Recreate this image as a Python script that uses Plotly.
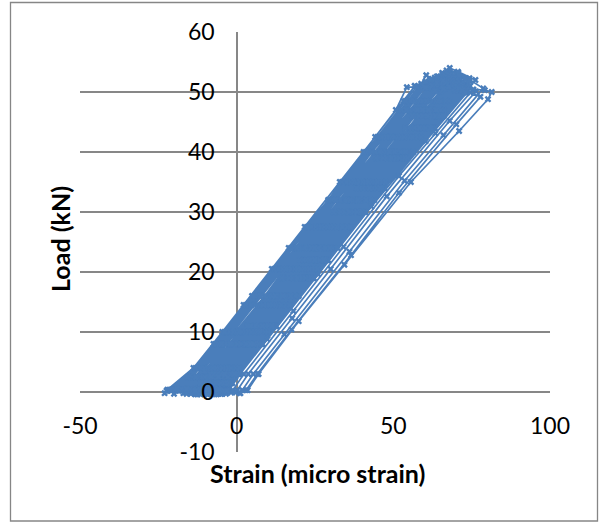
import plotly.graph_objects as go

# Load-strain record of a cyclically loaded specimen (one gauge),
# split into its loading/unloading cycles in time order.
c01_strain = [-7.0, -0.4, 8.3, 19.8, 32.2, 43.9, 56.3, 66.2, 71.5, 74.6, 77.8, 70.1, 51.8, 36.5, 17.5, 6.6, 3.0, 1.0]
c01_load = [0.2, 2.5, 8, 16, 24, 32, 40, 47, 50.3, 49.9, 49.2, 44.6, 33.2, 22.8, 10.4, 3, 0.3, -0.2]

c02_strain = [-8.5, -2.2, 6.6, 18.7, 30.3, 42.8, 54.4, 65.2, 70.7, 72.1, 73.3, 60.3, 43.0, 26.0, 9.8, 1.1, -2.4, -4.6]
c02_load = [0.1, 2.5, 8, 16, 24, 32, 40, 47, 50.8, 50.4, 49.8, 41.8, 30.9, 19.6, 8.8, 3, 0.3, -0.3]

c03_strain = [-10.1, -3.4, 5.2, 17.3, 28.8, 41.2, 53.1, 63.4, 69.8, 73.2, 76.4, 68.0, 47.9, 30.0, 17.7, 3.7, 0.2, -1.8]
c03_load = [0.3, 2.5, 8, 16, 24, 32, 40, 47, 51.2, 50.8, 50.1, 45.2, 32.6, 20.5, 12.3, 3, 0.3, -0.1]

c04_strain = [-11.2, -4.3, 4.2, 15.8, 28.3, 39.6, 52.4, 62.3, 69.3, 71.4, 73.3, 62.6, 46.1, 28.8, 12.3, 0.2, -3.4, -5.8]
c04_load = [0.2, 2.5, 8, 16, 24, 32, 40, 47, 51.5, 51.1, 50.5, 44, 34, 22, 11, 3, 0.3, -0.2]

c05_strain = [-12.0, -5.7, 3.3, 15.2, 26.6, 39.3, 50.8, 61.7, 69.0, 72.0, 74.5, 63.0, 47.0, 29.0, 12.5, 0.5, -3.0, -5.0]
c05_load = [0.2, 2.5, 8, 16, 24, 32, 40, 47, 52.0, 51.6, 51.0, 44, 34, 22, 11, 3, 0.3, -0.3]

c06_strain = [-13.1, -6.3, 2.1, 14.2, 25.8, 38.3, 49.6, 60.8, 68.6, 70.9, 73.0, 61.0, 45.2, 27.3, 10.2, -1.3, -5.1, -7.4]
c06_load = [0.3, 2.5, 8, 16, 24, 32, 40, 47, 52.4, 52.0, 51.3, 44, 34, 22, 11, 3, 0.3, -0.2]

c07_strain = [-14.0, -7.6, 1.3, 12.8, 25.2, 36.8, 49.4, 59.3, 68.5, 74.1, 78.7, 66.0, 53.6, 36.0, 15.2, 5.3, 1.8, -0.3]
c07_load = [0.2, 2.5, 8, 16, 24, 32, 40, 47, 53.0, 52.1, 50.6, 42.8, 35.2, 23.4, 9.6, 3, 0.3, -0.1]

c08_strain = [-15.3, -8.4, 0.2, 11.8, 24.3, 35.7, 48.4, 58.2, 68.1, 70.5, 73.0, 59.3, 43.8, 25.2, 9.3, -3.1, -6.6, -9.0]
c08_load = [0.3, 2.5, 8, 16, 24, 32, 40, 47, 53.4, 53.0, 52.3, 44, 34, 22, 11, 3, 0.3, -0.2]

c09_strain = [-16.1, -9.6, -0.8, 11.3, 22.9, 35.3, 46.8, 57.7, 65.3, 68.0, 70.6, 76.2, 63.2, 47.2, 29.2, 12.7, 0.7, -2.8, -5.1]
c09_load = [0.2, 2.5, 8, 16, 24, 32, 40, 47, 52.3, 54.0, 53.4, 52.0, 44, 34, 22, 11, 3, 0.3, -0.3]

c10_strain = [-16.8, -10.1, -1.9, 10.4, 22.1, 34.5, 46.2, 56.9, 65.7, 68.3, 70.7, 58.0, 42.3, 23.8, 7.8, -4.4, -8.1, -10.5]
c10_load = [0.3, 2.5, 8, 16, 24, 32, 40, 47, 53.0, 52.6, 51.8, 44, 34, 22, 11, 3, 0.3, -0.2]

c11_strain = [-17.5, -11.3, -2.4, 9.2, 21.6, 33.2, 45.6, 55.7, 64.3, 69.4, 74.0, 62.4, 46.2, 28.3, 11.8, -0.7, -4.1, -6.6]
c11_load = [0.2, 2.5, 8, 16, 24, 32, 40, 47, 52.6, 52.2, 51.3, 44, 34, 22, 11, 3, 0.3, -0.2]

c12_strain = [-18.4, -11.7, -3.6, 8.9, 20.4, 32.8, 44.3, 55.3, 63.2, 66.4, 69.1, 56.8, 41.2, 23.3, 6.8, -5.2, -9.1, -11.4]
c12_load = [0.3, 2.5, 8, 16, 24, 32, 40, 47, 52.4, 52.0, 51.4, 44, 34, 22, 11, 3, 0.3, -0.3]

c13_strain = [-19.3, -12.4, -4.5, 7.6, 19.9, 31.6, 44.1, 54.0, 61.8, 67.2, 73.6, 62.4, 46.4, 28.4, 11.9, -0.1, -3.6, -5.8]
c13_load = [0.2, 2.5, 8, 16, 24, 32, 40, 47, 52.0, 51.6, 50.8, 44, 34, 22, 11, 3, 0.3, -0.2]

c14_strain = [-20.1, -13.3, -5.2, 7.2, 18.8, 31.3, 42.7, 53.8, 60.4, 63.6, 66.9, 55.7, 40.3, 22.1, 5.8, -6.3, -10.0, -12.6]
c14_load = [0.3, 2.5, 8, 16, 24, 32, 40, 47, 51.6, 51.2, 50.6, 44, 34, 22, 11, 3, 0.3, -0.2]

c15_strain = [-20.9, -14.1, -6.0, 6.4, 17.9, 30.4, 42.1, 52.5, 59.0, 64.1, 69.5, 59.1, 43.3, 25.2, 8.6, -3.4, -7.0, -9.5]
c15_load = [0.2, 2.5, 8, 16, 24, 32, 40, 47, 51.2, 50.9, 50.3, 44, 34, 22, 11, 3, 0.3, -0.3]

c16_strain = [-21.7, -15.0, -6.8, 5.6, 17.3, 29.6, 41.2, 51.7, 56.8, 61.2, 65.0, 54.8, 39.2, 21.3, 4.4, -7.4, -11.1, -13.5]
c16_load = [0.3, 2.5, 8, 16, 24, 32, 40, 47, 51.0, 50.7, 50.0, 44, 34, 22, 11, 3, 0.3, -0.2]

c17_strain = [-22.4, -15.6, -7.4, 4.9, 16.6, 29.2, 40.5, 50.8, 54.3, 59.6, 70.8, 60.3, 44.8, 26.6, 10.2, -2.0, -5.4, -7.8]
c17_load = [0.2, 2.5, 8, 16, 24, 32, 40, 47, 50.8, 50.9, 50.2, 44, 34, 22, 11, 3, 0.3, -0.2]

c18_strain = [-19.8, -13.0, -4.8, 7.6, 19.2, 31.6, 43.2, 54.2, 60.5, 63.8, 65.5, 53.7, 38.3, 20.2, 3.4, -8.4, -12.1, -14.5]
c18_load = [0.3, 2.5, 8, 16, 24, 32, 40, 47, 52.8, 51.8, 51.0, 44, 34, 22, 11, 3, 0.3, -0.2]

c19_strain = [-15.6, -8.8, -0.3, 11.3, 23.8, 35.2, 47.8, 57.7, 66.7, 71.2, 75.4, 63.4, 51.8, 34.1, 18.1, 2.3, -1.2, -3.4]
c19_load = [0.2, 2.5, 8, 16, 24, 32, 40, 47, 52.8, 52.0, 50.4, 43.1, 36.0, 24.2, 13.5, 3, 0.3, -0.3]

c20_strain = [-12.6, -5.8, 2.7, 14.8, 26.2, 38.7, 50.3, 61.3, 68.2, 71.6, 73.0, 61.8, 45.8, 27.8, 11.3, -0.7, -4.2, -6.6]
c20_load = [0.3, 2.5, 8, 16, 24, 32, 40, 47, 51.8, 51.5, 50.8, 44, 34, 22, 11, 3, 0.3, -0.2]

c21_strain = [-9.4, -2.8, 5.7, 17.3, 29.8, 41.3, 53.9, 63.8, 69.4, 75.6, 79.2, 81.4, 80.2, 71.0, 55.6, 34.4, 19.8, 7.0, 3.5, 1.2]
c21_load = [0.2, 2.5, 8, 16, 24, 32, 40, 47, 50.6, 50.4, 50.3, 50.0, 48.8, 43.5, 35.0, 21.2, 11.8, 3, 0.3, -0.2]

c22_strain = [-14.5, -8.2, 0.6, 12.3, 24.8, 36.2, 48.7, 59.3, 67.3, 69.1, 70.8, 58.4, 42.4, 24.8, 8.2, -3.8, -7.4, -9.8]
c22_load = [0.3, 2.5, 8, 16, 24, 32, 40, 47, 52.5, 52.2, 51.5, 44, 34, 22, 11, 3, 0.3, -0.2]

c23_strain = [-22.1, -13.8, -4.6, 2.2, 11.2, 21.7, 32.9, 44.2, 53.2, 56.9, 60.5, 63.8, 56.5, 45.0, 31.5, 15.0, -1.5, -11.0, -12.7, -15.6, -20.0]
c23_load = [0.4, 4, 10, 14.5, 20.5, 27.5, 35, 42.5, 48.5, 51.0, 50.8, 50.2, 46, 39, 30, 19, 8, 1.5, 0.2, 0.5, -0.3]

c24_strain = [-20.7, -12.4, -3.2, 3.6, 12.6, 23.1, 34.3, 45.6, 54.6, 58.9, 62.4, 66.0, 58.2, 46.7, 33.2, 16.7, 0.2, -9.3, -11.0, -13.2, -18.5]
c24_load = [0.4, 4, 10, 14.5, 20.5, 27.5, 35, 42.5, 48.5, 51.4, 51.0, 50.5, 46, 39, 30, 19, 8, 1.5, 0.2, -0.4, 0.4]

c25_strain = [-19.9, -11.6, -2.4, 4.4, 13.4, 23.9, 35.1, 46.4, 55.4, 60.3, 64.0, 67.8, 59.4, 47.9, 34.4, 17.9, 1.4, -8.1, -9.8, -12.0, -17.0]
c25_load = [0.4, 4, 10, 14.5, 20.5, 27.5, 35, 42.5, 48.5, 51.8, 51.5, 50.9, 46, 39, 30, 19, 8, 1.5, 0.2, 0.6, -0.2]

c26_strain = [-18.5, -10.2, -1.0, 5.8, 14.8, 25.3, 36.5, 47.8, 56.8, 62.3, 66.0, 69.4, 60.6, 49.1, 35.6, 19.1, 2.6, -6.9, -8.6, -11.4, -15.8]
c26_load = [0.4, 4, 10, 14.5, 20.5, 27.5, 35, 42.5, 48.5, 52.2, 51.9, 51.2, 46, 39, 30, 19, 8, 1.5, 0.2, -0.4, 0.5]

c27_strain = [-17.5, -9.2, 0.0, 6.8, 15.8, 26.3, 37.5, 48.8, 57.8, 63.9, 67.5, 71.2, 61.8, 50.3, 36.8, 20.3, 3.8, -5.7, -7.4, -10.0, -14.6]
c27_load = [0.4, 4, 10, 14.5, 20.5, 27.5, 35, 42.5, 48.5, 52.6, 52.3, 51.6, 46, 39, 30, 19, 8, 1.5, 0.2, 0.5, -0.3]

c28_strain = [-16.7, -8.4, 0.8, 7.6, 16.6, 27.1, 38.3, 49.6, 58.6, 65.6, 69.2, 73.0, 63.0, 51.5, 38.0, 21.5, 5.0, -4.5, -6.2, -9.1, -13.4]
c28_load = [0.4, 4, 10, 14.5, 20.5, 27.5, 35, 42.5, 48.5, 53.2, 52.8, 52.0, 46, 39, 30, 19, 8, 1.5, 0.2, -0.4, 0.6]

c29_strain = [-15.9, -7.6, 1.6, 8.4, 17.4, 27.9, 39.1, 50.4, 59.4, 67.0, 70.8, 74.3, 63.8, 52.3, 38.8, 22.3, 5.8, -3.7, -5.4, -8.0, -12.6]
c29_load = [0.4, 4, 10, 14.5, 20.5, 27.5, 35, 42.5, 48.5, 53.6, 53.2, 52.3, 46, 39, 30, 19, 8, 1.5, 0.2, 0.4, -0.4]

c30_strain = [-14.7, -6.4, 2.8, 9.6, 18.6, 29.1, 40.3, 51.6, 60.6, 67.3, 71.0, 74.3, 64.4, 52.9, 39.4, 22.9, 6.4, -3.1, -4.8, -7.5, -11.8]
c30_load = [0.4, 4, 10, 14.5, 20.5, 27.5, 35, 42.5, 48.5, 53.0, 52.6, 51.9, 46, 39, 30, 19, 8, 1.5, 0.2, -0.3, 0.5]

c31_strain = [-13.8, -5.5, 3.7, 10.5, 19.5, 30.0, 41.2, 52.5, 61.5, 67.9, 69.5, 70.7, 61.0, 49.5, 36.0, 19.5, 3.0, -6.5, -8.2, -10.8, -10.6]
c31_load = [0.4, 4, 10, 14.5, 20.5, 27.5, 35, 42.5, 48.5, 52.8, 52.4, 51.8, 46, 39, 30, 19, 8, 1.5, 0.2, 0.5, -0.3]

c32_strain = [-12.9, -4.6, 4.6, 11.4, 20.4, 30.9, 42.1, 53.4, 62.4, 68.1, 70.0, 71.5, 62.4, 50.9, 37.4, 20.9, 4.4, -5.1, -6.8, -9.3, -11.0]
c32_load = [0.4, 4, 10, 14.5, 20.5, 27.5, 35, 42.5, 48.5, 52.3, 51.9, 51.4, 46, 39, 30, 19, 8, 1.5, 0.2, -0.4, 0.4]

c33_strain = [-11.7, -3.4, 5.8, 12.6, 21.6, 32.1, 43.3, 54.6, 63.6, 68.7, 70.4, 71.9, 63.4, 51.9, 38.4, 21.9, 5.4, -4.1, -5.8, -8.3, -10.4]
c33_load = [0.4, 4, 10, 14.5, 20.5, 27.5, 35, 42.5, 48.5, 51.9, 51.5, 51.0, 46, 39, 30, 19, 8, 1.5, 0.2, 0.5, -0.3]

c34_strain = [-10.9, -2.6, 6.6, 13.4, 22.4, 32.9, 44.1, 55.4, 64.4, 69.0, 71.0, 72.7, 64.6, 53.1, 39.6, 23.1, 6.6, -2.9, -4.6, -7.0, -9.6]
c34_load = [0.4, 4, 10, 14.5, 20.5, 27.5, 35, 42.5, 48.5, 51.6, 51.2, 50.7, 46, 39, 30, 19, 8, 1.5, 0.2, -0.4, 0.4]

c35_strain = [-10.1, -1.8, 7.4, 14.2, 23.2, 33.7, 44.9, 56.2, 65.2, 69.4, 71.6, 73.4, 65.8, 54.3, 40.8, 24.3, 7.8, -1.7, -3.4, -5.8, -8.0]
c35_load = [0.4, 4, 10, 14.5, 20.5, 27.5, 35, 42.5, 48.5, 51.3, 50.9, 50.4, 46, 39, 30, 19, 8, 1.5, 0.2, 0.5, -0.3]

c36_strain = [-8.5, -0.2, 9.0, 15.8, 24.8, 35.3, 46.5, 57.8, 66.8, 70.4, 71.6, 72.4, 65.2, 53.7, 40.2, 23.7, 7.2, -2.3, -4.0, -6.4, -7.0]
c36_load = [0.4, 4, 10, 14.5, 20.5, 27.5, 35, 42.5, 48.5, 50.9, 50.5, 50.1, 46, 39, 30, 19, 8, 1.5, 0.2, -0.4, 0.4]

c37_strain = [-7.5, 0.8, 10.0, 16.8, 25.8, 36.3, 47.5, 58.8, 67.8, 70.9, 72.0, 73.0, 66.1, 54.6, 41.1, 24.6, 8.1, -1.4, -3.1, -5.5, -16.0]
c37_load = [0.4, 4, 10, 14.5, 20.5, 27.5, 35, 42.5, 48.5, 50.6, 50.3, 49.9, 46, 39, 30, 19, 8, 1.5, 0.2, 0.4, -0.3]

c38_strain = [-21.4, -13.1, -3.9, 2.9, 11.9, 22.4, 33.6, 44.9, 53.9, 57.5, 60.2, 63.3, 56.0, 44.5, 31.0, 14.5, -2.0, -11.5, -13.2, -16.0, -23.0, -19.0]
c38_load = [0.4, 4, 10, 14.5, 20.5, 27.5, 35, 42.5, 48.5, 50.9, 50.7, 50.2, 46, 39, 30, 19, 8, 1.5, 0.2, 0.5, -0.2, 0.6]

cycles = [
    (c01_strain, c01_load), (c02_strain, c02_load), (c03_strain, c03_load),
    (c04_strain, c04_load), (c05_strain, c05_load), (c06_strain, c06_load),
    (c07_strain, c07_load), (c08_strain, c08_load), (c09_strain, c09_load),
    (c10_strain, c10_load), (c11_strain, c11_load), (c12_strain, c12_load),
    (c13_strain, c13_load), (c14_strain, c14_load), (c15_strain, c15_load),
    (c16_strain, c16_load), (c17_strain, c17_load), (c18_strain, c18_load),
    (c19_strain, c19_load), (c20_strain, c20_load), (c21_strain, c21_load),
    (c22_strain, c22_load), (c23_strain, c23_load), (c24_strain, c24_load),
    (c25_strain, c25_load), (c26_strain, c26_load), (c27_strain, c27_load),
    (c28_strain, c28_load), (c29_strain, c29_load), (c30_strain, c30_load),
    (c31_strain, c31_load), (c32_strain, c32_load), (c33_strain, c33_load),
    (c34_strain, c34_load), (c35_strain, c35_load), (c36_strain, c36_load),
    (c37_strain, c37_load), (c38_strain, c38_load),
]

x_ticks = [-50, 0, 50, 100]
x_tick_text = ["-50", "0", "50", "100"]
y_ticks = [-10, 0, 10, 20, 30, 40, 50, 60]
y_tick_text = ["-10", "0", "10", "20", "30", "40", "50", "60"]

strain, load = [], []
for s, l in cycles:
    strain.extend(s)
    load.extend(l)

SERIES = "#4A7EBB"
GRID = "#878787"
FONT = "Lato"

fig = go.Figure(
    go.Scatter(
        x=strain, y=load, mode="lines+markers",
        line=dict(color=SERIES, width=1.7),
        marker=dict(symbol="x", size=6, color=SERIES),
        showlegend=False, hoverinfo="x+y",
    )
)

W, H = 599, 522
L, R, T, B = 80, 49, 32, 70
pw, ph = W - L - R, H - T - B

def px_x(px):
    return (px - L) / pw

def px_y(py):
    return (H - B - py) / ph

fig.update_layout(
    width=W, height=H,
    margin=dict(l=L, r=R, t=T, b=B),
    paper_bgcolor="white", plot_bgcolor="white",
    font=dict(family=FONT, color="black"),
    xaxis=dict(
        range=[-50, 100], tickvals=x_ticks, ticktext=x_tick_text, showgrid=False,
        zeroline=True, zerolinecolor=GRID, zerolinewidth=1.5,
        showline=False, ticks="", anchor="free", position=px_y(410),
        tickfont=dict(size=23, family=FONT, color="black"),
    ),
    yaxis=dict(
        range=[-10, 60], tickvals=y_ticks, ticktext=y_tick_text, showgrid=True,
        gridcolor=GRID, gridwidth=1.5, zeroline=False, showline=False,
        ticks="", anchor="free", position=px_x(236.7),
        ticklabelstandoff=22,
        tickfont=dict(size=23, family=FONT, color="black"),
    ),
    shapes=[dict(
        type="rect", xref="paper", yref="paper",
        x0=px_x(10.5), x1=px_x(597.5), y0=px_y(521), y1=px_y(2.5),
        line=dict(color="#868686", width=1.3), fillcolor="rgba(0,0,0,0)",
        layer="below",
    )],
    annotations=[
        dict(text="<b>Strain (micro strain)</b>", xref="paper", yref="paper",
             x=px_x(317), y=px_y(473), showarrow=False,
             xanchor="center", yanchor="middle",
             font=dict(size=25, family=FONT, color="black")),
        dict(text="<b>Load (kN)</b>", xref="paper", yref="paper",
             x=px_x(60), y=px_y(239), showarrow=False, textangle=-90,
             xanchor="center", yanchor="middle",
             font=dict(size=25, family=FONT, color="black")),
    ],
)

fig.write_html("out.html")
